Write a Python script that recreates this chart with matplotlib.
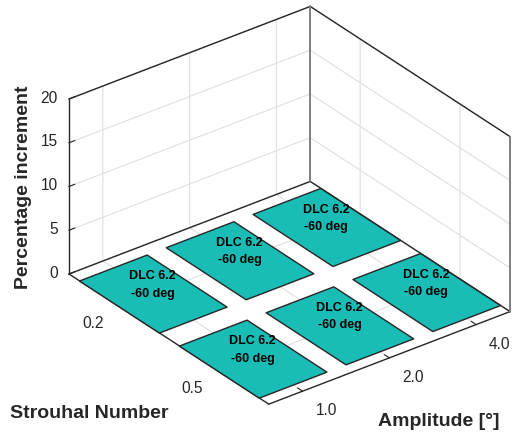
import matplotlib
matplotlib.use("Agg")
import matplotlib.pyplot as plt
from mpl_toolkits.mplot3d.art3d import Poly3DCollection
from mpl_toolkits.mplot3d import proj3d

plt.rcParams['font.family'] = ['Liberation Sans', 'DejaVu Sans']

amplitude_labels = ['1.0', '2.0', '4.0']
strouhal_labels = ['0.2', '0.5']
z_ticks = [0, 5, 10, 15, 20]
increment = [[0, 0, 0], [0, 0, 0]]  # rows: Strouhal, columns: Amplitude
cell_text = 'DLC 6.2\n-60 deg'

TEAL = '#1abdb6'
DARK = '#262626'
xw, yw = 0.39, 0.40
amp_pos = [1, 2, 3]
st_pos = [1, 2]
xlim = (1 - xw, 3 + xw)
ylim = (2.5, 0.5)   # Strouhal runs towards the viewer
zlim = (0, 20)

fig = plt.figure(figsize=(5.12, 4.33), dpi=100)
ax = fig.add_axes([0, 0, 1, 1], projection='3d', computed_zorder=False)
ax.set_proj_type('ortho')
ax.view_init(elev=30, azim=-127.5)
ax.set_box_aspect((304, 328, 202))
ax.set_xlim(*xlim); ax.set_ylim(*ylim); ax.set_zlim(*zlim)
ax.patch.set_alpha(0)

for axis in (ax.xaxis, ax.yaxis, ax.zaxis):
    axis.pane.set_facecolor((1, 1, 1, 0))
    axis.pane.set_edgecolor((1, 1, 1, 0))
    axis.line.set_color((1, 1, 1, 0))
    axis._axinfo['grid'].update(color='#e2e2e2', linewidth=0.9)
    axis._axinfo['tick'].update(inward_factor=0.0, outward_factor=0.3)
    axis._axinfo['tick']['linewidth'] = {True: 0.8, False: 0.8}

ax.set_xticks(amp_pos, amplitude_labels)
ax.set_yticks(st_pos, strouhal_labels)
ax.set_zticks(z_ticks)
ax.tick_params(axis='both', labelsize=11.2, labelcolor=DARK, color=DARK)
ax.tick_params(axis='z', labelsize=11.2, labelcolor=DARK, color=DARK, pad=-3.5)
for t in ax.get_xticklabels():
    t.set_ha('left'); t.set_va('center')
for t in ax.get_yticklabels():
    t.set_ha('right'); t.set_va('center')
for t in ax.get_zticklabels():
    t.set_ha('right'); t.set_va('center')

# box edges
x0, x1 = xlim; y0, y1 = ylim; z0, z1 = zlim
dark_edges = [((x0, y0, z0), (x0, y1, z0)), ((x0, y1, z0), (x1, y1, z0)),
              ((x1, y1, z0), (x1, y0, z0)), ((x1, y0, z0), (x0, y0, z0)),
              ((x0, y1, z0), (x0, y1, z1)), ((x0, y1, z1), (x1, y1, z1)),
              ((x1, y1, z1), (x1, y0, z1))]
gray_edges = [((x1, y1, z0), (x1, y1, z1)), ((x1, y0, z0), (x1, y0, z1))]
for edges, c, lw in ((dark_edges, DARK, 1.0), (gray_edges, '#808080', 1.4)):
    for p, q in edges:
        ax.plot(*zip(p, q), color=c, lw=lw, zorder=3, solid_capstyle='round')

# cells (all values are zero)
for j, s in enumerate(st_pos):
    for i, a in enumerate(amp_pos):
        h = increment[j][i]
        quad = [(a - xw, s - yw, h), (a + xw, s - yw, h), (a + xw, s + yw, h), (a - xw, s + yw, h)]
        ax.add_collection3d(Poly3DCollection([quad], facecolor=TEAL, edgecolor=DARK, linewidth=1.0, zorder=4))
        ax.text(a, s, h + 1.0, cell_text, ha='center', va='center', fontsize=9,
                fontweight='bold', color='black', linespacing=1.6, zorder=6)

# fit the projected box to the target frame
def px(p):
    X, Y, _ = proj3d.proj_transform(*p, ax.get_proj())
    return ax.transData.transform((X, Y))

W, H = 512, 433
S, cx, cy = 433.0, 256.0, 216.0
target_l = (69, 433 - 274)
target_r = (510, 433 - 311)
for _ in range(4):
    ax.set_position([(cx - S / 2) / W, (cy - S / 2) / H, S / W, S / H])
    fig.canvas.draw()
    l = px((x0, y1, z0)); r = px((x1, y0, z0))
    S *= (target_r[0] - target_l[0]) / (r[0] - l[0])
    cx += target_l[0] - l[0]
    cy += target_l[1] - l[1]
ax.set_position([(cx - S / 2) / W, (cy - S / 2) / H, S / W, S / H])

fig.text(24 / W, 1 - 187 / H, 'Percentage increment', rotation=90, ha='center', va='center',
         fontsize=14, fontweight='bold', color=DARK)
fig.text(10 / W, 1 - 414 / H, 'Strouhal Number', ha='left', va='center',
         fontsize=14, fontweight='bold', color=DARK)
fig.text(378 / W, 1 - 422 / H, 'Amplitude [°]', ha='left', va='center',
         fontsize=14, fontweight='bold', color=DARK)

fig.savefig('out.png', dpi=100)
